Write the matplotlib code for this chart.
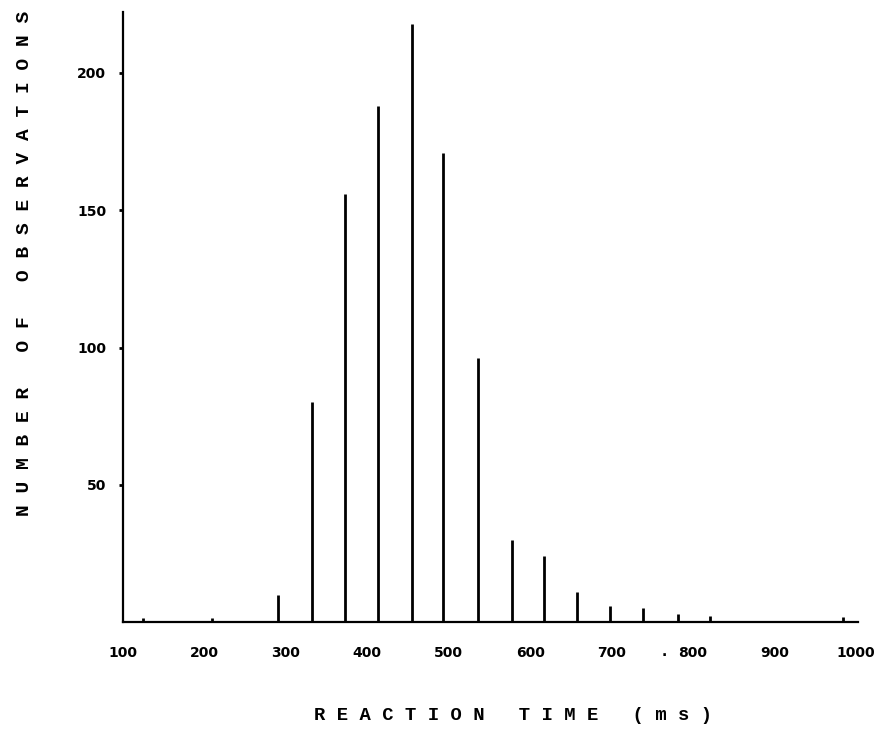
import matplotlib.pyplot as plt

# reaction time bins (ms) and counts
rt_ms = [125, 209, 290, 332, 373, 413, 455, 493, 536, 578, 617, 658, 698, 739, 781, 821, 984]
counts = [1.5, 1.5, 10, 80, 156, 188, 218, 171, 96, 30, 24, 11, 6, 5, 3, 2.3, 1.7]

x_ticks = [100, 200, 300, 400, 500, 600, 700, 800, 900, 1000]
y_ticks = [50, 100, 150, 200]

W, H = 879, 729
fig = plt.figure(figsize=(W / 100, H / 100), dpi=100)

# axes box in pixels: left 123, right 858, baseline 622, top 12
left, right, bottom, top = 123, 858, 622, 12
ax = fig.add_axes([left / W, 1 - bottom / H, (right - left) / W, (bottom - top) / H])

ax.vlines(rt_ms, 0, counts, color="black", linewidth=2.0)

ax.set_xlim(100, 100 + (right - left) / ((856 - 123) / 900))
ax.set_ylim(0, (bottom - top) / 2.745)

for s in ["top", "right"]:
    ax.spines[s].set_visible(False)
for s in ["left", "bottom"]:
    ax.spines[s].set_linewidth(1.6)
    ax.spines[s].set_color("black")

ax.set_xticks(x_ticks)
ax.set_xticklabels([str(v) for v in x_ticks], fontsize=10, fontweight="bold", family="DejaVu Sans")
ax.set_yticks(y_ticks)
ax.set_yticklabels([str(v) for v in y_ticks], fontsize=10, fontweight="bold", family="DejaVu Sans")
ax.tick_params(axis="x", length=0, pad=17)
ax.tick_params(axis="y", length=3, width=2, direction="out", pad=9)

mono = "Liberation Mono"
fig.text(513 / W, 1 - 716 / H, "R E A C T I O N   T I M E   ( m s )",
         ha="center", va="center", fontsize=13.6, fontweight="bold", family=mono)
fig.text(25 / W, 1 - 263 / H, "N U M B E R   O F   O B S E R V A T I O N S",
         ha="center", va="center", rotation=90, fontsize=14, fontweight="bold", family=mono)

# small speck next to the 800 label in the scan
fig.text(664 / W, 1 - 652 / H, ".", ha="center", va="center", fontsize=10, fontweight="bold")

fig.savefig("out.png", dpi=100)
